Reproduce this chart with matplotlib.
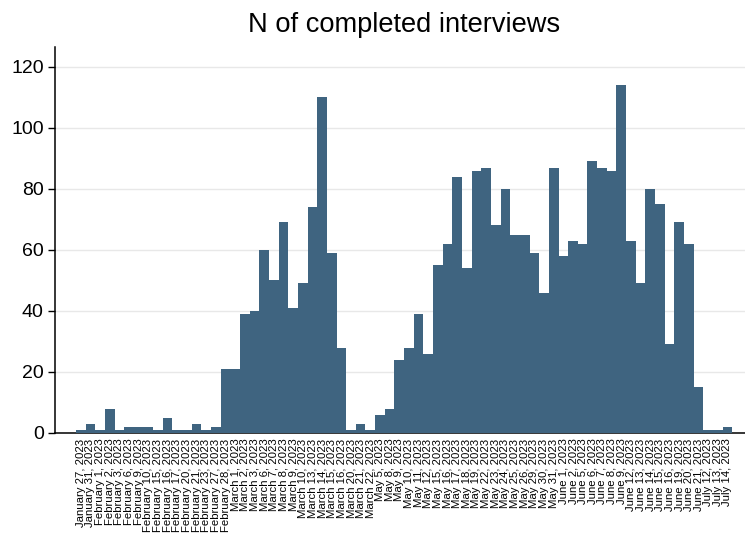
import matplotlib.pyplot as plt

# datas das entrevistas (rótulos do eixo x)
fevereiro = [1, 2, 3, 6, 9, 10, 15, 16, 17, 20, 21, 23, 27, 28]
marco = [1, 2, 3, 6, 7, 8, 9, 10, 13, 14, 15, 16, 20, 21, 22]
maio = [5, 8, 9, 10, 11, 12, 15, 16, 17, 18, 19, 22, 23, 24, 25, 26, 29, 30, 31]
junho = [1, 2, 5, 6, 7, 8, 9, 12, 13, 14, 15, 16, 19, 20, 21]
julho = [12, 13, 14]

datas = (['January 27, 2023', 'January 31, 2023']
         + [f'February {d}, 2023' for d in fevereiro]
         + [f'March {d}, 2023' for d in marco]
         + [f'May {d}, 2023' for d in maio]
         + [f'June {d}, 2023' for d in junho]
         + [f'July {d}, 2023' for d in julho])

# número de entrevistas completas por dia
entrevistas = [1, 3, 1, 8, 1, 2, 2, 2, 1, 5, 1, 1, 3, 1, 2, 21,
               21, 39, 40, 60, 50, 69, 41, 49, 74, 110, 59, 28, 1, 3, 1,
               6, 8, 24, 28, 39, 26, 55, 62, 84, 54, 86, 87, 68, 80, 65, 65, 59, 46, 87, 58,
               63, 62, 89, 87, 86, 114, 63, 49, 80, 75, 29, 69, 62, 15,
               1, 1, 2]

plt.rcParams['font.family'] = ['Liberation Sans', 'DejaVu Sans']

fig = plt.figure(figsize=(7.45, 5.39), dpi=100)
ax = fig.add_axes([0.0738, 0.1967, 0.9262, 0.7161])  # left, bottom, width, height

x = list(range(len(entrevistas)))
ax.bar(x, entrevistas, width=1.0, color='#3f6480', linewidth=0, zorder=3)

ax.set_xlim(-2.67, 68.82)
ax.set_ylim(0, 126.5)

ax.set_yticks([0, 20, 40, 60, 80, 100, 120])
ax.tick_params(axis='y', labelsize=14, length=5, width=1, pad=3)
ax.yaxis.grid(True, color='#e8e8e8', linewidth=1, zorder=0)

# rótulos das datas, girados (ficam encostados como no original)
ax.set_xticks(x)
ax.set_xticklabels(datas, rotation=90, fontsize=8.2, va='top')
ax.tick_params(axis='x', length=0, pad=4)

for lado in ['top', 'right']:
    ax.spines[lado].set_visible(False)
ax.spines['left'].set_linewidth(1.1)
ax.spines['bottom'].set_linewidth(1.1)

fig.text(0.542, 0.954, 'N of completed interviews', fontsize=19.6, ha='center', va='center')

plt.savefig('out.png', dpi=100)
